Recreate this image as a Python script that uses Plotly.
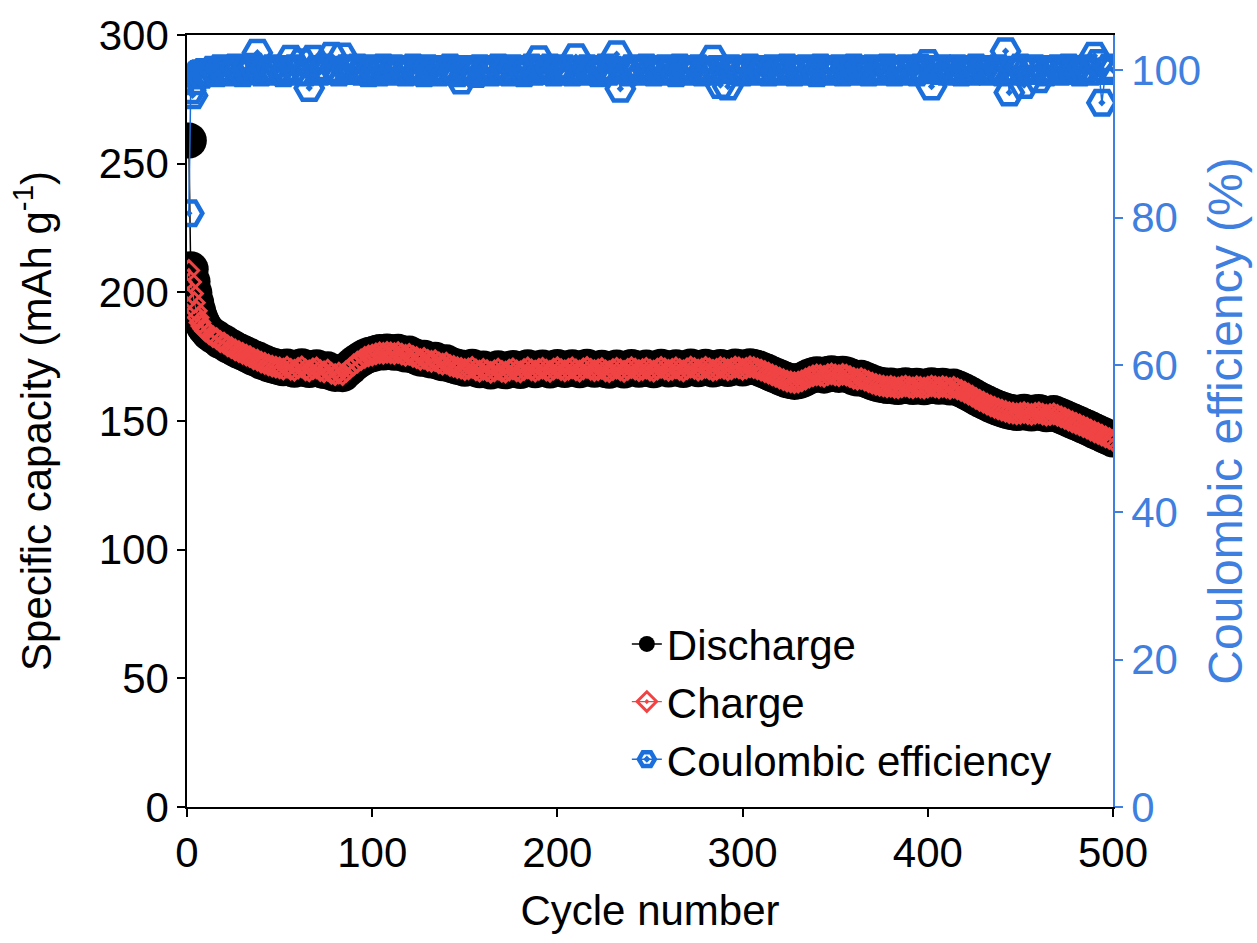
import plotly.graph_objects as go

# ---------------- data ----------------
cycles = list(range(1, 11)) + list(range(12, 501, 2))

discharge = [
    259.0, 209.0, 204.2, 199.8, 196.0, 192.9, 190.4, 188.5, 187.0, 185.9,
    184.2, 183.1, 182.3, 181.0, 180.6, 179.4, 178.8, 177.9, 177.2, 176.6,
    175.9, 175.2, 174.4, 174.0, 173.1, 172.7, 172.0, 171.6, 171.2, 170.8,
    170.5, 171.2, 170.4, 169.9, 170.8, 171.3, 170.2, 169.8, 170.6, 170.9,
    169.9, 169.4, 170.1, 168.8, 168.3, 168.9, 168.2, 169.6, 170.8, 172.1,
    173.2, 174.1, 175.0, 175.6, 175.9, 176.4, 176.8, 176.6, 177.0, 176.8,
    176.5, 176.9, 176.3, 175.8, 176.2, 175.4, 174.9, 174.2, 174.6, 173.9,
    173.5, 173.8, 172.9, 172.4, 172.8, 171.9, 171.5, 171.0, 170.8, 170.3,
    170.6, 171.1, 170.2, 169.7, 170.4, 169.9, 169.2, 169.8, 170.5, 169.6,
    169.3, 170.1, 170.6, 169.8, 169.4, 170.3, 170.9, 170.2, 169.7, 170.4,
    170.8, 170.1, 169.6, 170.5, 171.0, 170.3, 169.8, 170.4, 170.9, 170.2,
    169.7, 170.6, 171.1, 170.4, 169.9, 170.2, 170.7, 169.8, 169.5, 170.3,
    170.8, 170.2, 169.6, 170.4, 171.0, 170.5, 169.9, 170.3, 170.8, 170.1,
    169.7, 170.5, 171.1, 170.6, 170.0, 170.4, 170.9, 170.3, 169.8, 170.6,
    171.2, 170.7, 170.1, 170.5, 171.1, 170.6, 170.0, 170.4, 171.0, 170.7,
    170.2, 170.6, 171.2, 170.9, 170.4, 170.8, 171.3, 171.0, 170.6, 170.1,
    169.5, 168.9, 168.2, 167.6, 167.0, 166.4, 165.8, 165.5, 165.2, 165.4,
    165.9, 166.6, 167.3, 167.8, 168.2, 168.0, 167.6, 168.3, 168.6, 168.2,
    167.9, 168.4, 168.1, 167.5, 166.9, 166.5, 166.8, 166.2, 165.6, 165.0,
    164.5, 164.1, 163.9, 163.6, 163.8, 163.4, 163.2, 163.6, 163.9, 163.5,
    163.2, 163.7, 163.4, 163.1, 163.5, 163.9, 163.6, 163.3, 163.7, 163.4,
    163.0, 163.4, 162.8, 162.2, 161.5, 160.7, 160.0, 159.1, 158.3, 157.6,
    156.9, 156.2, 155.6, 155.0, 154.5, 154.0, 153.6, 153.4, 153.1, 153.3,
    153.6, 153.2, 152.9, 153.3, 153.5, 153.0, 152.6, 152.8, 153.1, 152.5,
    151.9, 151.3, 150.6, 150.0, 149.4, 148.8, 148.1, 147.5, 146.8, 146.1,
    145.5, 144.8, 144.1, 143.5, 142.8,
]

charge = [
    208.5, 204.0, 199.5, 196.0, 192.8, 190.2, 188.3, 186.9, 185.8, 185.0,
    183.9, 182.8, 182.0, 180.8, 180.3, 179.2, 178.5, 177.6, 177.0, 176.3,
    175.6, 175.0, 174.1, 173.7, 172.9, 172.4, 171.8, 171.3, 170.9, 170.6,
    170.2, 170.9, 170.1, 169.7, 170.5, 171.0, 169.9, 169.5, 170.3, 170.6,
    169.6, 169.1, 169.8, 168.5, 168.0, 168.6, 168.0, 169.3, 170.5, 171.8,
    172.9, 173.8, 174.7, 175.3, 175.6, 176.1, 176.5, 176.3, 176.7, 176.5,
    176.2, 176.6, 176.0, 175.5, 175.9, 175.1, 174.6, 173.9, 174.3, 173.6,
    173.2, 173.5, 172.6, 172.1, 172.5, 171.6, 171.2, 170.7, 170.5, 170.0,
    170.3, 170.8, 169.9, 169.4, 170.1, 169.6, 168.9, 169.5, 170.2, 169.3,
    169.0, 169.8, 170.3, 169.5, 169.1, 170.0, 170.6, 169.9, 169.4, 170.1,
    170.5, 169.8, 169.3, 170.2, 170.7, 170.0, 169.5, 170.1, 170.6, 169.9,
    169.4, 170.3, 170.8, 170.1, 169.6, 169.9, 170.4, 169.5, 169.2, 170.0,
    170.5, 169.9, 169.3, 170.1, 170.7, 170.2, 169.6, 170.0, 170.5, 169.8,
    169.4, 170.2, 170.8, 170.3, 169.7, 170.1, 170.6, 170.0, 169.5, 170.3,
    170.9, 170.4, 169.8, 170.2, 170.8, 170.3, 169.7, 170.1, 170.7, 170.4,
    169.9, 170.3, 170.9, 170.6, 170.1, 170.5, 171.0, 170.7, 170.3, 169.8,
    169.2, 168.6, 167.9, 167.3, 166.7, 166.1, 165.5, 165.2, 164.9, 165.1,
    165.6, 166.3, 167.0, 167.5, 167.9, 167.7, 167.3, 168.0, 168.3, 167.9,
    167.6, 168.1, 167.8, 167.2, 166.6, 166.2, 166.5, 165.9, 165.3, 164.7,
    164.2, 163.8, 163.6, 163.3, 163.5, 163.1, 162.9, 163.3, 163.6, 163.2,
    162.9, 163.4, 163.1, 162.8, 163.2, 163.6, 163.3, 163.0, 163.4, 163.1,
    162.7, 163.1, 162.5, 161.9, 161.2, 160.4, 159.7, 158.8, 158.0, 157.3,
    156.6, 155.9, 155.3, 154.7, 154.2, 153.7, 153.3, 153.1, 152.8, 153.0,
    153.3, 152.9, 152.6, 153.0, 153.2, 152.7, 152.3, 152.5, 152.8, 152.2,
    151.6, 151.0, 150.3, 149.7, 149.1, 148.5, 147.8, 147.2, 146.5, 145.8,
    145.2, 144.5, 143.8, 143.2, 142.5,
]

efficiency = [
    80.6, 97.3, 96.6, 98.5, 99.3, 99.5, 99.6, 99.4, 99.8, 99.7,
    99.8, 100.1, 99.6, 100.3, 99.9, 100.2, 99.7, 100.4, 100.0, 99.6,
    100.2, 99.9, 100.5, 102.4, 99.7, 100.1, 99.8, 100.3, 99.9, 100.2,
    99.6, 100.0, 101.6, 100.3, 99.8, 101.1, 99.7, 97.6, 101.6, 100.2,
    99.8, 100.4, 99.9, 102.0, 100.1, 99.7, 101.9, 100.3, 99.9, 100.1,
    100.4, 99.8, 100.2, 99.6, 100.3, 100.0, 99.7, 100.4, 100.1, 99.8,
    100.3, 99.9, 100.2, 99.7, 100.0, 100.4, 99.8, 100.1, 99.6, 100.3,
    99.9, 100.2, 99.7, 100.1, 99.8, 100.4, 100.0, 99.6, 98.6, 100.2,
    99.8, 100.1, 99.5, 100.3, 99.9, 100.2, 99.7, 100.0, 100.4, 99.8,
    100.1, 99.7, 100.3, 99.9, 100.2, 99.6, 100.0, 100.4, 99.8, 101.5,
    100.2, 99.9, 100.4, 99.7, 100.1, 99.8, 100.3, 100.0, 99.7, 101.8,
    100.1, 99.8, 100.3, 99.9, 100.2, 99.6, 100.0, 100.4, 99.8, 100.1,
    102.2, 97.5, 100.0, 99.7, 100.3, 99.9, 100.2, 99.8, 100.4, 100.0,
    99.7, 100.2, 99.9, 100.3, 99.8, 100.1, 99.6, 100.4, 100.0, 99.8,
    100.2, 99.9, 100.3, 99.7, 100.1, 99.8, 101.6, 100.2, 98.0, 100.0,
    97.8, 100.3, 99.9, 100.2, 99.7, 100.0, 100.4, 99.8, 100.1, 99.9,
    100.2, 99.7, 100.3, 99.9, 100.1, 99.8, 100.4, 100.0, 99.7, 100.2,
    99.9, 100.3, 99.8, 100.1, 99.6, 100.4, 100.0, 99.8, 100.2, 99.9,
    100.3, 99.7, 100.1, 99.9, 100.4, 99.8, 100.0, 100.2, 99.7, 100.3,
    99.9, 100.1, 99.8, 100.4, 100.0, 99.7, 100.2, 99.9, 100.3, 99.8,
    100.1, 99.7, 100.4, 100.0, 101.0, 97.8, 100.2, 99.9, 100.3, 99.8,
    100.1, 99.9, 100.3, 99.7, 100.2, 100.0, 99.8, 100.4, 99.9, 100.1,
    99.8, 100.2, 99.9, 100.3, 99.7, 102.6, 97.0, 100.1, 99.8, 100.4,
    98.0, 100.2, 99.9, 100.3, 98.8, 100.1, 99.7, 100.2, 99.9, 100.3,
    99.8, 100.1, 100.4, 99.9, 100.2, 99.7, 100.0, 100.3, 99.8, 102.0,
    101.0, 95.6, 99.9, 100.4, 100.0,
]

x_ticks = [0, 100, 200, 300, 400, 500]
y_ticks = [0, 50, 100, 150, 200, 250, 300]
y2_ticks = [0, 20, 40, 60, 80, 100]

# ---------------- style ----------------
FONT = "Arial, 'Liberation Sans', sans-serif"
FS = 42
BLUE = "#1a6fdc"
BLUE_AX = "#3f7fe0"
RED = "#f04444"

fig = go.Figure()

fig.add_trace(go.Scatter(
    x=cycles, y=discharge, name="Discharge", mode="lines+markers",
    legendgroup="d",
    line=dict(color="black", width=1.5),
    marker=dict(symbol="circle", size=36, color="black"),
))
fig.add_trace(go.Scatter(
    x=cycles, y=charge, name="Charge", mode="lines+markers",
    legendgroup="c",
    line=dict(color=RED, width=1.2),
    marker=dict(symbol="diamond-open-dot", size=15, color=RED,
                line=dict(color=RED, width=3)),
))
fig.add_trace(go.Scatter(
    x=cycles, y=efficiency, name="Coulombic efficiency", mode="lines+markers",
    legendgroup="e", yaxis="y2",
    line=dict(color=BLUE, width=1.5),
    marker=dict(symbol="hexagon2-open-dot", size=27, color=BLUE,
                line=dict(color=BLUE, width=4.5)),
))

fig.update_layout(
    width=1257, height=943,
    margin=dict(l=187, r=144, t=35, b=136),
    paper_bgcolor="white", plot_bgcolor="white",
    font=dict(family=FONT, size=FS, color="black"),
    showlegend=True,
    legend=dict(
        x=0.475, y=0.255, xanchor="left", yanchor="top",
        bgcolor="rgba(0,0,0,0)", borderwidth=0,
        font=dict(size=FS, family=FONT, color="black"),
        tracegroupgap=0, itemsizing="trace",
    ),
    xaxis=dict(
        range=[0, 500], tickvals=x_ticks,
        showline=True, linecolor="black", linewidth=1.5, mirror=True,
        ticks="outside", ticklen=8, tickwidth=1.5, tickcolor="black",
        showgrid=False, zeroline=False,
        title=dict(text="Cycle number", standoff=20,
                   font=dict(size=FS, family=FONT)),
        tickfont=dict(size=FS, family=FONT),
    ),
    yaxis=dict(
        range=[0, 300], tickvals=y_ticks,
        showline=True, linecolor="black", linewidth=1.5,
        ticks="outside", ticklen=8, tickwidth=1.5, tickcolor="black",
        showgrid=False, zeroline=False,
        title=dict(text="Specific capacity (mAh g<sup>-1</sup>)", standoff=34,
                   font=dict(size=FS, family=FONT)),
        tickfont=dict(size=FS, family=FONT),
    ),
    yaxis2=dict(
        range=[0, 104.8], tickvals=y2_ticks, overlaying="y", side="right",
        showline=True, linecolor=BLUE_AX, linewidth=1.5,
        ticks="outside", ticklen=8, tickwidth=1.5, tickcolor=BLUE_AX,
        showgrid=False, zeroline=False,
        title=dict(text="Coulombic efficiency (%)", standoff=8,
                   font=dict(size=48, family=FONT, color=BLUE_AX)),
        tickfont=dict(size=FS, family=FONT, color=BLUE_AX),
    ),
)

fig.write_html("out.html")
